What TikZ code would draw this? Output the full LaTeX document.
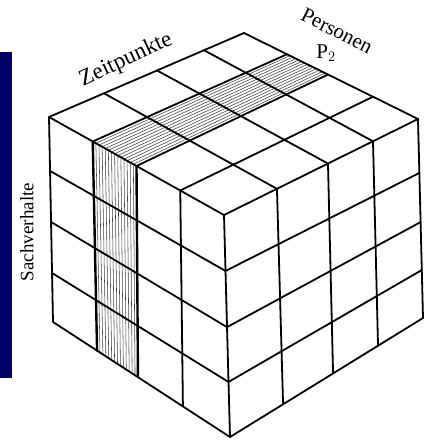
\documentclass[tikz,border=0pt]{standalone}
\usepackage{fontspec}
\setmainfont{Liberation Serif}
\usetikzlibrary{calc}
\definecolor{barblue}{RGB}{0,0,102}
\begin{document}
\begin{tikzpicture}[x=1pt,y=-1pt,
  edge/.style={line width=1.8pt, line cap=round, line join=round},
  boldedge/.style={line width=2.4pt, line cap=round, line join=round},
  hatch/.style={line width=0.55pt, black!75},
  lbl/.style={inner sep=0pt, font=\fontsize{21}{21}\selectfont}]
\useasboundingbox (0,0) rectangle (427,442);
\fill[barblue] (0,52) rectangle (12,378);

\coordinate (L) at (49,117);
\coordinate (B) at (244,33);
\coordinate (R) at (418,119);
\coordinate (F) at (224,215);
\coordinate (Lb) at (53,322);
\coordinate (Fb) at (230,437);
\coordinate (Rb) at (423,318);

\coordinate (a1) at ($(L)!0.25!(F)$);
\coordinate (a2) at ($(L)!0.5!(F)$);
\coordinate (b1) at ($(B)!0.247!(R)$);
\coordinate (b2) at ($(B)!0.483!(R)$);
\coordinate (c1) at ($(Lb)!0.249!(Fb)$);
\coordinate (c2) at ($(Lb)!0.48!(Fb)$);

% hatching of the top strip
\foreach \k in {1,...,13} {
  \pgfmathsetmacro\s{\k/14}
  \draw[hatch] ($(a1)!\s!(a2)$) -- ($(b1)!\s!(b2)$);
}
% hatching of the left column
\foreach \k in {1,...,13} {
  \pgfmathsetmacro\s{\k/14}
  \draw[hatch] ($(a1)!\s!(a2)$) -- ($(c1)!\s!(c2)$);
}

% outline
\draw[edge] (L) -- (B) -- (R) -- (Rb) -- (Fb) -- (Lb) -- cycle;
\draw[edge] (L) -- (F) -- (R);
\draw[edge] (F) -- (Fb);

% top face
\foreach \p/\q in {0.25/0.247, 0.5/0.483, 0.75/0.741}
  \draw[edge] ($(L)!\p!(F)$) -- ($(B)!\q!(R)$);
\foreach \p/\q in {0.282/0.273, 0.554/0.536, 0.795/0.768}
  \draw[edge] ($(L)!\p!(B)$) -- ($(F)!\q!(R)$);
% left face
\foreach \p/\q in {0.75/0.734}
  \draw[edge] ($(L)!\p!(F)$) -- ($(Lb)!\q!(Fb)$);
\draw[boldedge] (a1) -- (c1);
\draw[boldedge] (a2) -- (c2);
\foreach \p/\q in {0.263/0.252, 0.512/0.505, 0.761/0.752}
  \draw[edge] ($(L)!\p!(Lb)$) -- ($(F)!\q!(Fb)$);
% right face
\foreach \p/\q in {0.273/0.275, 0.536/0.534, 0.768/0.767}
  \draw[edge] ($(F)!\p!(R)$) -- ($(Fb)!\q!(Rb)$);
\foreach \p/\q in {0.252/0.271, 0.505/0.518, 0.752/0.759}
  \draw[edge] ($(F)!\p!(Fb)$) -- ($(R)!\q!(Rb)$);

% labels
\node[lbl, rotate=25, font=\fontsize{23}{23}\selectfont] (zeit) at (126,60) {Zeitpunkte};
\node[lbl, rotate=-27] (pers) at (337,31) {Personen};
\node[lbl] (ptwo) at (326,53) {P$_{2}$};
\node[lbl, rotate=90, font=\fontsize{19}{19}\selectfont] (sach) at (27,232) {Sachverhalte};
\end{tikzpicture}
\end{document}
